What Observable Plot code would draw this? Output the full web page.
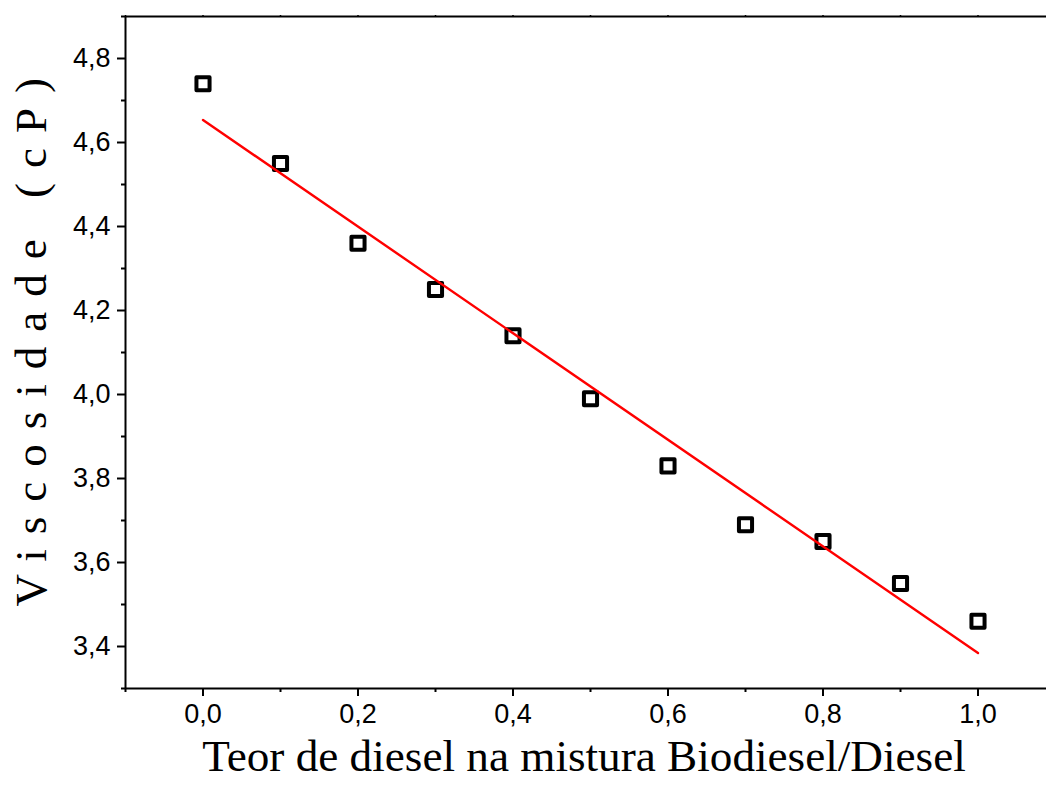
<!DOCTYPE html>
<html><head><meta charset="utf-8">
<script src="https://cdn.jsdelivr.net/npm/d3@7"></script>
<script src="https://cdn.jsdelivr.net/npm/@observablehq/plot@0.6"></script>
<style>body{margin:0;background:#fff;overflow:hidden}</style>
</head><body><div id="chart"></div>
<script>
const teor = [0.0, 0.1, 0.2, 0.3, 0.4, 0.5, 0.6, 0.7, 0.8, 0.9, 1.0];
const viscosidade = [4.74, 4.55, 4.36, 4.25, 4.14, 3.99, 3.83, 3.69, 3.65, 3.55, 3.46];
const xDomain = [-0.1, 1.1];
const yDomain = [3.3, 4.9];
const xMajorTicks = [0.0, 0.2, 0.4, 0.6, 0.8, 1.0];
const xMinorTicks = [-0.1, 0.1, 0.3, 0.5, 0.7, 0.9, 1.1];
const xTopTicks = [-0.1, 0.0, 0.1, 0.2, 0.3, 0.4, 0.5, 0.6, 0.7, 0.8, 0.9, 1.0, 1.1];
const yMajorTicks = [3.4, 3.6, 3.8, 4.0, 4.2, 4.4, 4.6, 4.8];
const yMinorTicks = [3.3, 3.5, 3.7, 3.9, 4.1, 4.3, 4.5, 4.7, 4.9];
const xTitle = "Teor de diesel na mistura Biodiesel/Diesel";
const yTitle = "Viscosidade (cP)";

const data = teor.map((x, i) => ({x, y: viscosidade[i]}));
const fmt = d => d.toFixed(1).replace(".", ",");
const blank = () => "";

const plot = Plot.plot({
  width: 1046, height: 789,
  marginTop: 16, marginBottom: 101, marginLeft: 125, marginRight: 0,
  style: {fontFamily: "'Liberation Sans', Arial, sans-serif", background: "#fff", overflow: "hidden", color: "#000"},
  x: {domain: xDomain, range: [125, 1055]},
  y: {domain: yDomain},
  marks: [
    Plot.ruleY([yDomain[1]], {stroke: "#000", strokeWidth: 2}),
    Plot.ruleY([yDomain[0]], {stroke: "#000", strokeWidth: 2}),
    Plot.ruleX([xDomain[0]], {stroke: "#000", strokeWidth: 2}),
    Plot.axisX(xMajorTicks, {anchor: "bottom", tickSize: 8, tickPadding: 7, tickFormat: fmt, fontSize: 27, strokeWidth: 2, label: null}),
    Plot.axisX(xMinorTicks, {anchor: "bottom", tickSize: 4, tickFormat: blank, strokeWidth: 2, label: null}),
    Plot.axisX(xTopTicks, {anchor: "top", tickSize: 2, tickFormat: blank, strokeWidth: 1.5, label: null}),
    Plot.axisY(yMajorTicks, {anchor: "left", tickSize: 8, tickPadding: 7, tickFormat: fmt, fontSize: 27, strokeWidth: 2, label: null}),
    Plot.axisY(yMinorTicks, {anchor: "left", tickSize: 4, tickFormat: blank, strokeWidth: 2, label: null}),
    Plot.dot(data, {x: "x", y: "y", symbol: "square", r: 7.4, stroke: "#000", strokeWidth: 4, fill: "none", strokeLinejoin: "round"}),
    Plot.linearRegressionY(data, {x: "x", y: "y", stroke: "#ff0000", strokeWidth: 2.4, ci: 0}),
    Plot.text([xTitle], {text: d => d, frameAnchor: "bottom", dy: 82, dx: -2, fontSize: 45.2, fontFamily: "'Liberation Serif', 'Times New Roman', serif", fill: "#000"}),
    Plot.text([yTitle], {text: d => d, frameAnchor: "left", textAnchor: "start", dx: -94, dy: 254, rotate: -90, fontSize: 45, fontFamily: "'Liberation Serif', 'Times New Roman', serif", fill: "#000"})
  ]
});
plot.querySelectorAll("text").forEach(t => {
  if (t.textContent === yTitle) t.style.letterSpacing = "15px";
});
document.getElementById("chart").appendChild(plot);
</script>
</body></html>
